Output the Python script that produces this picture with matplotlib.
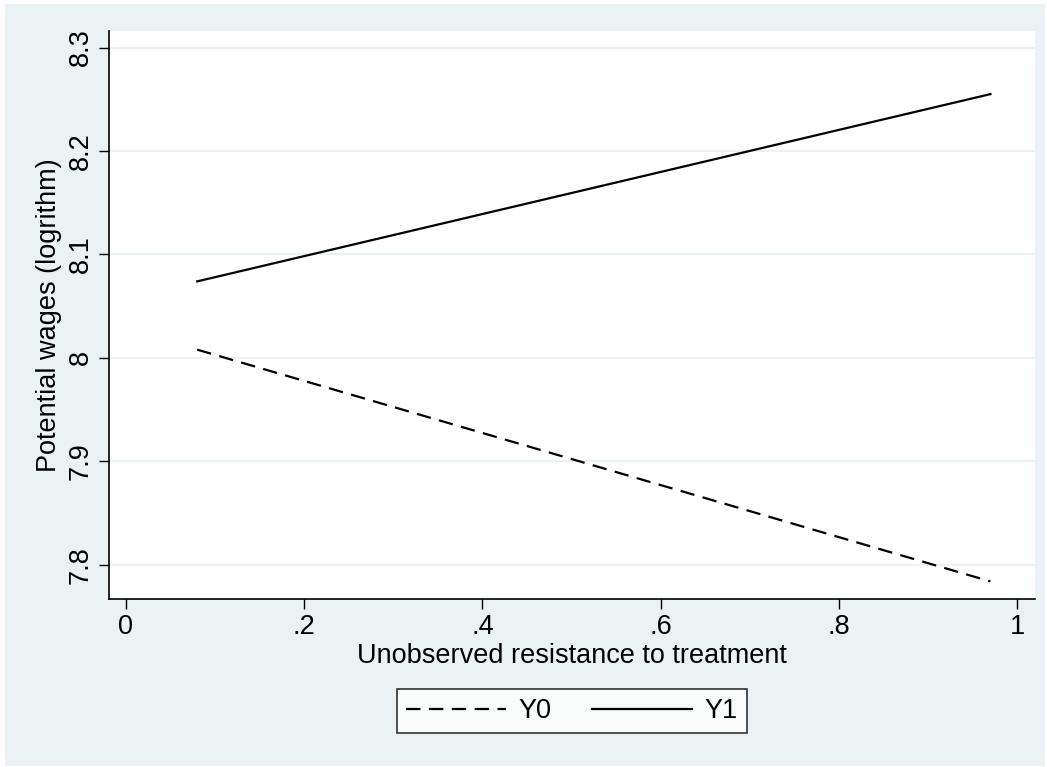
import matplotlib.pyplot as plt
import matplotlib.patches as mpatches

plt.rcParams['font.family'] = ['Liberation Sans', 'DejaVu Sans']

# endpoints of the two potential-wage lines
u = [0.08, 0.97]
y0 = [8.008, 7.784]
y1 = [8.074, 8.255]

xticks = [0, 0.2, 0.4, 0.6, 0.8, 1.0]
xlabels = ['0', '.2', '.4', '.6', '.8', '1']
yticks = [7.8, 7.9, 8.0, 8.1, 8.2, 8.3]
ylabels = ['7.8', '7.9', '8', '8.1', '8.2', '8.3']

bg = '#EAF2F3'
fs = 19.5
fig = plt.figure(figsize=(10.47, 7.67), dpi=100, facecolor='white')
fig.patches.append(mpatches.Rectangle((5 / 1047, 1 / 767), 1040 / 1047, 762 / 767,
                                      transform=fig.transFigure, facecolor=bg,
                                      edgecolor='none', zorder=-10))
ax = fig.add_axes([109 / 1047, 1 - 599 / 767, 926 / 1047, 568 / 767])
ax.set_facecolor('white')

l0, = ax.plot(u, y0, color='black', lw=1.6, dashes=(6.5, 3.8), label='Y0')
l1, = ax.plot(u, y1, color='black', lw=1.6, label='Y1')

ax.set_xlim(-0.019, 1.020)
ax.set_ylim(7.767, 8.316)
ax.set_xticks(xticks, xlabels)
ax.set_yticks(yticks, ylabels)
ax.tick_params(axis='both', labelsize=fs, length=7, width=1, direction='out', color='black', pad=4)
for t in ax.get_yticklabels():
    t.set_rotation(90)
    t.set_va('center')
ax.grid(axis='y', color=bg, lw=1.5)
ax.set_axisbelow(True)
for s in ['top', 'right']:
    ax.spines[s].set_visible(False)
for s in ['left', 'bottom']:
    ax.spines[s].set_linewidth(1.2)

ax.set_xlabel('Unobserved resistance to treatment', fontsize=fs, labelpad=2)
ax.set_ylabel('Potential wages (logrithm)', fontsize=fs, labelpad=4)

leg = fig.legend(handles=[l0, l1], loc='center', bbox_to_anchor=(572 / 1047, 1 - 711 / 767),
                 ncol=2, fontsize=fs, frameon=True, fancybox=False, edgecolor='black',
                 handlelength=3.7, columnspacing=1.5, handletextpad=0.45, borderpad=0.35,
                 borderaxespad=0)
leg.get_frame().set_linewidth(1.2)

fig.savefig('out.png', dpi=100, facecolor=fig.get_facecolor())
